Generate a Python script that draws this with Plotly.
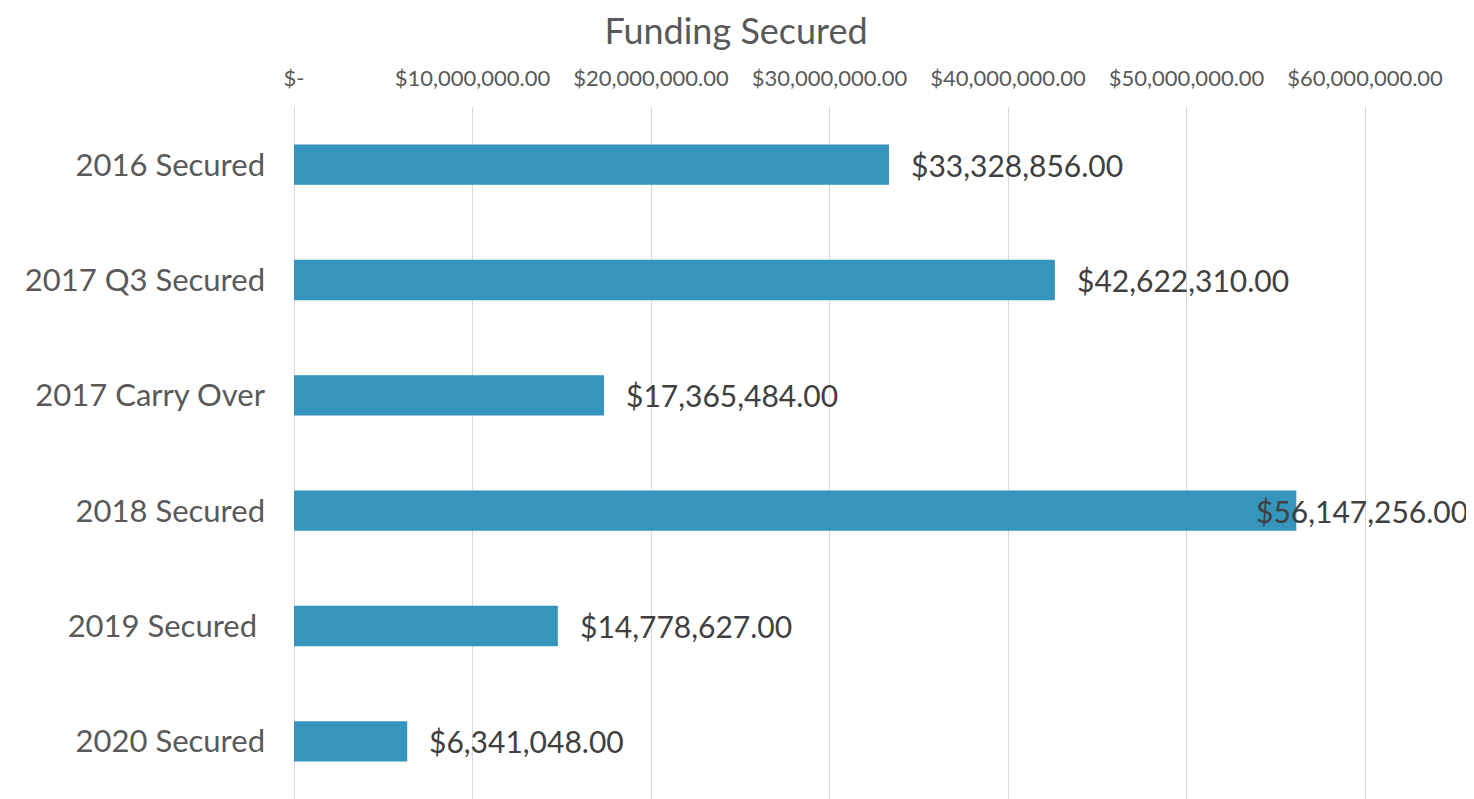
import plotly.graph_objects as go

categories = ["2016 Secured", "2017 Q3 Secured", "2017 Carry Over",
              "2018 Secured", "2019 Secured ", "2020 Secured"]
funding = [33328856.00, 42622310.00, 17365484.00, 56147256.00, 14778627.00, 6341048.00]
tick_values = [0, 10e6, 20e6, 30e6, 40e6, 50e6, 60e6]

X_MAX = 66.1e6
BAR_COLOR = "#3595bc"
TEXT_GREY = "#595959"
LABEL_GREY = "#404040"
FONT = "Lato, 'Open Sans', sans-serif"

# the html page puts the figure 8px in from the top-left corner
W, H = 1466, 791
LEFT, TOP = 286, 99


def money(v):
    return "$-" if v == 0 else "${:,.2f}".format(v)


fig = go.Figure(go.Bar(
    x=funding, y=categories, orientation="h",
    marker=dict(color=BAR_COLOR, line=dict(width=0)),
    width=0.35, hoverinfo="skip",
))

# data labels: outside the bar end, pulled back to the right edge when they would not fit
plot_w = W - LEFT
for cat, val in zip(categories, funding):
    px_end = val / X_MAX * plot_w
    fits = px_end + 22 + 215 < plot_w
    fig.add_annotation(
        x=val if fits else X_MAX, y=cat, xref="x", yref="y",
        text=money(val), showarrow=False,
        xanchor="left" if fits else "right", xshift=20 if fits else -4,
        font=dict(family=FONT, size=30, color=LABEL_GREY),
    )

fig.update_layout(
    width=W, height=H,
    paper_bgcolor="white", plot_bgcolor="white",
    margin=dict(l=LEFT, r=0, t=TOP, b=0, autoexpand=False),
    title=dict(text="Funding Secured", x=(736 - 8) / W, xref="container",
               y=1 - 23 / H, yref="container", xanchor="center", yanchor="middle",
               font=dict(family=FONT, size=36, color=TEXT_GREY)),
    showlegend=False,
    bargap=0.65,
)
fig.update_xaxes(
    side="top", range=[0, X_MAX], automargin=False,
    tickvals=tick_values, ticktext=[money(v) for v in tick_values],
    tickfont=dict(family=FONT, size=22, color=TEXT_GREY),
    ticklabelstandoff=16,
    showgrid=True, gridcolor="#d9d9d9", gridwidth=1,
    zeroline=True, zerolinecolor="#d9d9d9", zerolinewidth=1,
    showline=False, ticks="",
)
fig.update_yaxes(
    autorange="reversed", automargin=False,
    tickfont=dict(family=FONT, size=31, color=TEXT_GREY),
    ticklabelstandoff=28,
    showgrid=False, showline=False, ticks="",
)

fig.write_html("out.html")
